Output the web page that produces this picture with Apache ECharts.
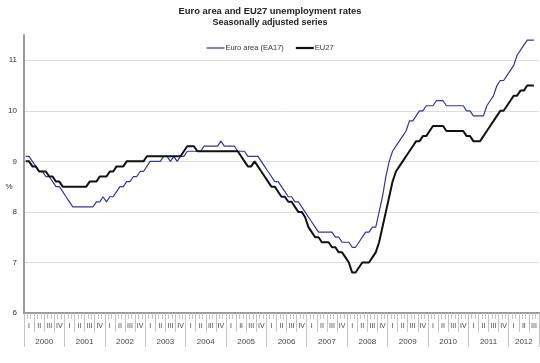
<!DOCTYPE html>
<html><head><meta charset="utf-8">
<script src="https://cdn.jsdelivr.net/npm/echarts@6/dist/echarts.min.js"></script>
<style>html,body{margin:0;padding:0;background:#fff}#c{width:540px;height:363px}</style>
</head><body><div id="c"></div>
<script>
const years = ['2000','2001','2002','2003','2004','2005','2006','2007','2008','2009','2010','2011','2012'];
const quarters = ['I','II','III','IV'];
const yTicks = [6,7,8,9,10,11];

const euroArea = [
  9.1,9.1,9.0,8.9,8.8,8.8,8.7,8.7,8.6,8.5,8.5,8.4,
  8.3,8.2,8.1,8.1,8.1,8.1,8.1,8.1,8.1,8.2,8.2,8.3,
  8.2,8.3,8.3,8.4,8.5,8.5,8.6,8.6,8.7,8.7,8.8,8.8,
  8.9,9.0,9.0,9.0,9.0,9.1,9.1,9.0,9.1,9.0,9.1,9.1,
  9.2,9.2,9.2,9.2,9.2,9.3,9.3,9.3,9.3,9.3,9.4,9.3,
  9.3,9.3,9.3,9.2,9.2,9.2,9.1,9.1,9.1,9.1,9.0,8.9,
  8.8,8.7,8.6,8.6,8.5,8.4,8.3,8.3,8.2,8.2,8.1,8.0,
  7.9,7.8,7.7,7.6,7.6,7.6,7.6,7.6,7.5,7.5,7.4,7.4,
  7.4,7.3,7.3,7.4,7.5,7.6,7.6,7.7,7.7,8.0,8.3,8.7,
  9.0,9.2,9.3,9.4,9.5,9.6,9.8,9.8,9.9,10.0,10.0,10.1,
  10.1,10.1,10.2,10.2,10.2,10.1,10.1,10.1,10.1,10.1,10.1,10.0,
  10.0,9.9,9.9,9.9,9.9,10.1,10.2,10.3,10.5,10.6,10.6,10.7,
  10.8,10.9,11.1,11.2,11.3,11.4,11.4,11.4,null
];
const eu27 = [
  9.0,9.0,8.9,8.9,8.8,8.8,8.8,8.7,8.7,8.6,8.6,8.5,
  8.5,8.5,8.5,8.5,8.5,8.5,8.5,8.6,8.6,8.6,8.7,8.7,
  8.7,8.8,8.8,8.9,8.9,8.9,9.0,9.0,9.0,9.0,9.0,9.0,
  9.1,9.1,9.1,9.1,9.1,9.1,9.1,9.1,9.1,9.1,9.1,9.2,
  9.3,9.3,9.3,9.2,9.2,9.2,9.2,9.2,9.2,9.2,9.2,9.2,
  9.2,9.2,9.2,9.2,9.1,9.0,8.9,8.9,9.0,8.9,8.8,8.7,
  8.6,8.5,8.5,8.4,8.3,8.3,8.2,8.2,8.1,8.0,8.0,7.9,
  7.7,7.6,7.5,7.5,7.4,7.4,7.4,7.3,7.3,7.2,7.2,7.1,
  7.0,6.8,6.8,6.9,7.0,7.0,7.0,7.1,7.2,7.4,7.7,8.0,
  8.3,8.6,8.8,8.9,9.0,9.1,9.2,9.3,9.4,9.4,9.5,9.5,
  9.6,9.7,9.7,9.7,9.7,9.6,9.6,9.6,9.6,9.6,9.6,9.5,
  9.5,9.4,9.4,9.4,9.5,9.6,9.7,9.8,9.9,10.0,10.0,10.1,
  10.2,10.3,10.3,10.4,10.4,10.5,10.5,10.5,null
];

// month categories (Jan 2000 .. Sep 2012)
const months = [];
years.forEach(function (y, yi) {
  const n = yi === years.length - 1 ? 9 : 12;
  for (let m = 1; m <= n; m++) months.push(y + '-' + (m < 10 ? '0' : '') + m);
});
const nMonths = months.length;          // 153
const nHalf = nMonths * 2;              // half-month boundaries: 0..306
const lastYearStart = (years.length - 1) * 24;
const lastYearCenter = lastYearStart + (nHalf - lastYearStart) / 2;

const quarterMarks = [], yearMarks = [];
for (let i = 0; i <= nHalf; i++) {
  quarterMarks.push(i % 6 === 3 ? quarters[((i - 3) / 6) % 4] : '');
  let yl = '';
  if (i < lastYearStart && i % 24 === 12) yl = years[Math.floor(i / 24)];
  if (i === lastYearCenter) yl = years[years.length - 1];
  yearMarks.push(yl);
}

const chart = echarts.init(document.getElementById('c'), null, {renderer: 'canvas'});
chart.setOption({
  animation: false,
  backgroundColor: '#ffffff',
  title: {
    text: 'Euro area and EU27 unemployment rates',
    subtext: 'Seasonally adjusted series',
    left: 'center', top: 0, itemGap: 2, padding: [7, 10, 3, 0],
    textStyle: {fontFamily: 'Liberation Sans', fontSize: 9.4, fontWeight: 'bold', color: '#222'},
    subtextStyle: {fontFamily: 'Liberation Sans', fontSize: 9, fontWeight: 'bold', color: '#222'}
  },
  legend: {
    top: 39, left: 'center', itemWidth: 18, itemHeight: 8, itemGap: 12,
    data: [
      {name: 'Euro area (EA17)', icon: 'path://M0,0H18V1.2H0Z'},
      {name: 'EU27', icon: 'path://M0,0H18V2.2H0Z'}
    ],
    textStyle: {fontFamily: 'Liberation Sans', fontSize: 7.5, color: '#333', padding: [0,0,0,-4]}
  },
  grid: {left: 24, right: 1, top: 35, bottom: 50, containLabel: false, outerBoundsMode: 'none'},
  xAxis: [
    {
      type: 'category', data: months, boundaryGap: true,
      axisLine: {show: true, lineStyle: {color: '#9a9a9a', width: 2}},
      axisTick: {show: true, interval: 0, length: 6, lineStyle: {color: '#c4c4c4'}},
      axisLabel: {show: false}, splitLine: {show: false}
    },
    {
      type: 'category', data: quarterMarks, boundaryGap: false, position: 'bottom',
      axisLine: {show: false},
      axisTick: {show: true, length: 19, interval: function (i) { return i % 6 === 0; }, lineStyle: {color: '#c4c4c4'}},
      axisLabel: {show: true, margin: 10, fontSize: 7, fontFamily: 'Liberation Sans', color: '#444',
        interval: function (i) { return i % 6 === 3; }},
      splitLine: {show: false}
    },
    {
      type: 'category', data: yearMarks, boundaryGap: false, position: 'bottom',
      axisLine: {show: false},
      axisTick: {show: true, length: 34, interval: function (i) { return i % 24 === 0 || i === nHalf; }, lineStyle: {color: '#c4c4c4'}},
      axisLabel: {show: true, margin: 25, fontSize: 8, fontFamily: 'Liberation Sans', color: '#444',
        interval: function (i) { return yearMarks[i] !== ''; }},
      splitLine: {show: false}
    }
  ],
  yAxis: {
    type: 'value', min: yTicks[0], max: 11.5, interval: 1,
    name: '%', nameLocation: 'middle', nameRotate: 0, nameGap: 15, nameMoveOverlap: false,
    nameTextStyle: {fontFamily: 'Liberation Sans', fontSize: 8, color: '#2b2b45',
      align: 'center', verticalAlign: 'top', padding: [9, 0, 0, 0]},
    axisLine: {show: true, lineStyle: {color: '#9a9a9a', width: 2}},
    axisTick: {show: false},
    axisLabel: {fontFamily: 'Liberation Sans', fontSize: 8, color: '#2b2b45', margin: 7, showMaxLabel: false,
      formatter: function (v) { return yTicks.indexOf(v) >= 0 ? String(v) : ''; }},
    splitLine: {show: true, showMaxLine: false, showMinLine: false, lineStyle: {color: '#dcdcdc', width: 1}}
  },
  series: [
    {
      name: 'Euro area (EA17)', type: 'line', data: euroArea, xAxisIndex: 0,
      symbol: 'none', showSymbol: false, smooth: false,
      itemStyle: {color: '#34349c'}, lineStyle: {color: '#34349c', width: 1.2}
    },
    {
      name: 'EU27', type: 'line', data: eu27, xAxisIndex: 0,
      symbol: 'none', showSymbol: false, smooth: false,
      itemStyle: {color: '#111'}, lineStyle: {color: '#111', width: 2}
    }
  ]
});
</script>
</body></html>
